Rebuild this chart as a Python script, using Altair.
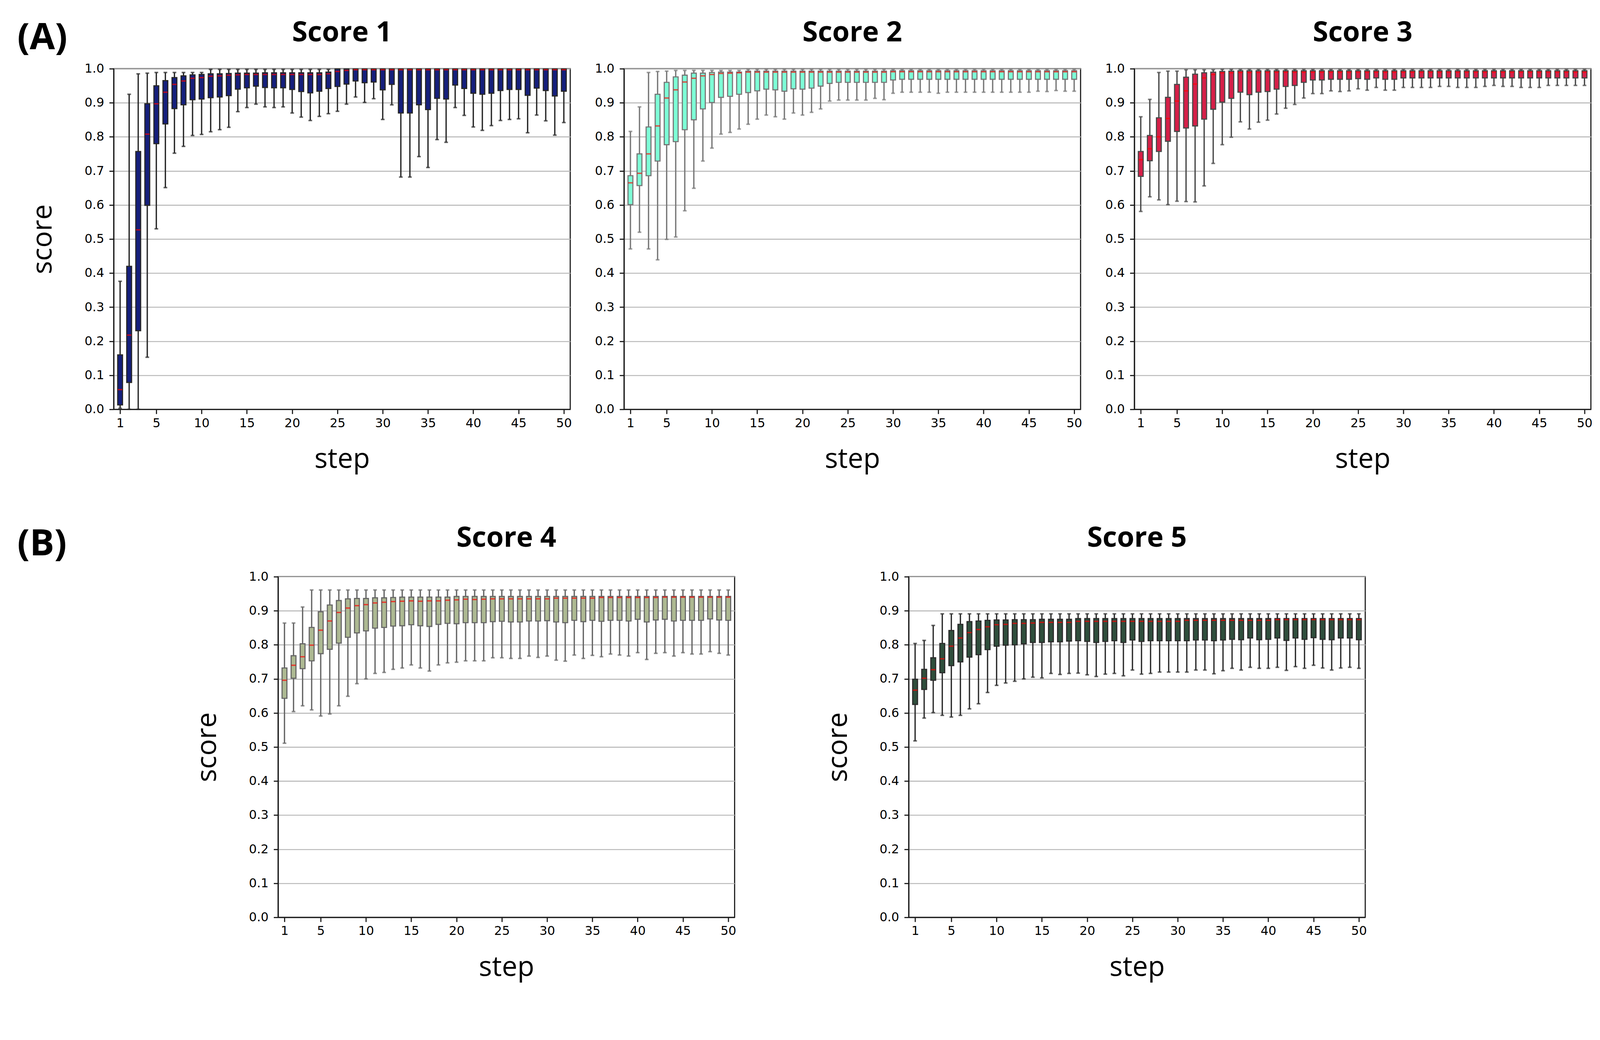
import altair as alt
import pandas as pd

STEPS = list(range(1, 51))
X_TICKS = [1, 5, 10, 15, 20, 25, 30, 35, 40, 45, 50]
Y_TICKS = [0.0, 0.1, 0.2, 0.3, 0.4, 0.5, 0.6, 0.7, 0.8, 0.9, 1.0]

# ---------------- Score 1 ----------------
S1_WMAX = [0.376, 0.925, 0.985, 0.987, 0.989, 0.989, 0.989, 0.989, 0.989, 0.989,
           0.998, 0.998, 0.998, 0.998, 0.998, 0.998, 0.998, 0.998, 0.998, 0.998,
           0.998, 0.998, 0.998, 0.998, 0.998, 0.998, 0.998, 0.998, 0.998, 0.998,
           0.998, 0.998, 0.998, 0.998, 0.998, 0.998, 0.998, 0.998, 0.998, 0.998,
           0.998, 0.998, 0.998, 0.998, 0.998, 0.998, 0.998, 0.998, 0.998, 0.998]
S1_Q3 = [0.160, 0.420, 0.757, 0.897, 0.950, 0.965, 0.974, 0.979, 0.982, 0.983,
         0.985, 0.985, 0.986, 0.987, 0.987, 0.987, 0.988, 0.988, 0.988, 0.988,
         0.988, 0.988, 0.988, 0.990, 0.999, 0.999, 0.999, 0.999, 0.999, 0.999,
         0.999, 0.999, 0.999, 0.999, 0.999, 0.999, 0.999, 0.999, 0.999, 0.999,
         0.999, 0.999, 0.999, 0.999, 0.999, 0.999, 0.999, 0.999, 0.999, 0.999]
S1_MED = [0.058, 0.218, 0.527, 0.808, 0.897, 0.931, 0.954, 0.964, 0.972, 0.974,
          0.978, 0.979, 0.981, 0.982, 0.983, 0.983, 0.983, 0.983, 0.983, 0.983,
          0.983, 0.983, 0.983, 0.985, 0.992, 0.995, 0.997, 0.997, 0.997, 0.997,
          0.997, 0.997, 0.997, 0.997, 0.997, 0.997, 0.997, 0.997, 0.997, 0.997,
          0.997, 0.997, 0.997, 0.997, 0.997, 0.997, 0.997, 0.997, 0.997, 0.997]
S1_Q1 = [0.013, 0.079, 0.231, 0.599, 0.780, 0.838, 0.883, 0.894, 0.909, 0.911,
         0.915, 0.917, 0.921, 0.940, 0.944, 0.949, 0.945, 0.944, 0.944, 0.939,
         0.933, 0.929, 0.934, 0.942, 0.948, 0.955, 0.964, 0.959, 0.961, 0.938,
         0.954, 0.870, 0.870, 0.894, 0.880, 0.913, 0.911, 0.952, 0.942, 0.928,
         0.925, 0.928, 0.936, 0.939, 0.939, 0.922, 0.943, 0.936, 0.920, 0.934]
S1_WMIN = [0.003, 0.000, 0.000, 0.153, 0.530, 0.651, 0.752, 0.772, 0.804, 0.807,
           0.815, 0.821, 0.828, 0.874, 0.886, 0.896, 0.888, 0.886, 0.888, 0.870,
           0.858, 0.848, 0.860, 0.868, 0.875, 0.896, 0.917, 0.901, 0.912, 0.851,
           0.894, 0.682, 0.682, 0.742, 0.710, 0.792, 0.784, 0.886, 0.863, 0.829,
           0.819, 0.833, 0.848, 0.851, 0.853, 0.812, 0.864, 0.847, 0.805, 0.842]

# ---------------- Score 2 ----------------
S2_WMAX = [0.816, 0.888, 0.989, 0.992, 0.993, 0.995, 0.995, 0.995, 0.995, 0.995,
           0.995, 0.995, 0.995, 0.998, 0.998, 0.998, 0.998, 0.998, 0.998, 0.998,
           0.998, 0.998, 0.998, 0.998, 0.998, 0.998, 0.998, 0.998, 0.998, 0.998,
           0.998, 0.998, 0.998, 0.998, 0.998, 0.998, 0.998, 0.998, 0.998, 0.998,
           0.998, 0.998, 0.998, 0.998, 0.998, 0.998, 0.998, 0.998, 0.998, 0.998]
S2_Q3 = [0.686, 0.750, 0.829, 0.925, 0.960, 0.976, 0.981, 0.987, 0.987, 0.989,
         0.990, 0.990, 0.990, 0.993, 0.993, 0.993, 0.993, 0.993, 0.993, 0.993,
         0.993, 0.993, 0.993, 0.993, 0.993, 0.993, 0.993, 0.993, 0.993, 0.994,
         0.994, 0.994, 0.994, 0.994, 0.994, 0.994, 0.994, 0.994, 0.994, 0.994,
         0.994, 0.994, 0.994, 0.994, 0.994, 0.994, 0.994, 0.994, 0.994, 0.994]
S2_MED = [0.665, 0.693, 0.750, 0.832, 0.914, 0.938, 0.961, 0.972, 0.979, 0.983,
          0.986, 0.987, 0.988, 0.990, 0.990, 0.990, 0.990, 0.990, 0.990, 0.990,
          0.990, 0.990, 0.990, 0.990, 0.990, 0.990, 0.990, 0.990, 0.990, 0.991,
          0.991, 0.991, 0.991, 0.991, 0.991, 0.991, 0.991, 0.991, 0.991, 0.991,
          0.991, 0.991, 0.991, 0.991, 0.991, 0.991, 0.991, 0.991, 0.991, 0.991]
S2_Q1 = [0.601, 0.657, 0.686, 0.729, 0.777, 0.786, 0.821, 0.850, 0.882, 0.901,
         0.916, 0.919, 0.925, 0.930, 0.935, 0.940, 0.938, 0.934, 0.941, 0.940,
         0.943, 0.949, 0.957, 0.960, 0.960, 0.960, 0.960, 0.960, 0.960, 0.967,
         0.969, 0.969, 0.969, 0.969, 0.969, 0.969, 0.969, 0.969, 0.969, 0.969,
         0.969, 0.969, 0.969, 0.969, 0.969, 0.969, 0.969, 0.969, 0.969, 0.969]
S2_WMIN = [0.471, 0.520, 0.471, 0.439, 0.499, 0.506, 0.583, 0.649, 0.729, 0.767,
           0.808, 0.813, 0.823, 0.837, 0.852, 0.864, 0.859, 0.852, 0.870, 0.864,
           0.872, 0.882, 0.905, 0.908, 0.908, 0.908, 0.908, 0.913, 0.909, 0.928,
           0.931, 0.931, 0.931, 0.931, 0.928, 0.931, 0.931, 0.931, 0.931, 0.931,
           0.931, 0.931, 0.931, 0.931, 0.931, 0.934, 0.933, 0.936, 0.934, 0.934]

# ---------------- Score 3 ----------------
S3_WMAX = [0.859, 0.910, 0.989, 0.993, 0.993, 0.997, 0.997, 0.997, 0.997, 0.998,
           0.998, 0.998, 0.998, 0.998, 0.998, 0.998, 0.998, 0.998, 0.998, 0.998,
           0.998, 0.998, 0.998, 0.998, 0.998, 0.998, 0.998, 0.998, 0.998, 0.998,
           0.998, 0.998, 0.998, 0.998, 0.998, 0.998, 0.998, 0.998, 0.998, 0.998,
           0.998, 0.998, 0.998, 0.998, 0.998, 0.998, 0.998, 0.998, 0.998, 0.998]
S3_Q3 = [0.757, 0.804, 0.856, 0.916, 0.954, 0.975, 0.984, 0.988, 0.990, 0.992,
         0.993, 0.994, 0.994, 0.994, 0.994, 0.994, 0.994, 0.994, 0.994, 0.994,
         0.994, 0.994, 0.994, 0.994, 0.994, 0.994, 0.994, 0.994, 0.994, 0.994,
         0.994, 0.994, 0.994, 0.994, 0.994, 0.994, 0.994, 0.994, 0.994, 0.994,
         0.994, 0.994, 0.994, 0.994, 0.994, 0.994, 0.994, 0.994, 0.994, 0.994]
S3_MED = [0.733, 0.765, 0.800, 0.854, 0.905, 0.935, 0.955, 0.973, 0.983, 0.988,
          0.988, 0.989, 0.989, 0.989, 0.990, 0.990, 0.990, 0.990, 0.990, 0.990,
          0.990, 0.990, 0.990, 0.990, 0.990, 0.990, 0.990, 0.990, 0.990, 0.990,
          0.990, 0.990, 0.990, 0.990, 0.990, 0.990, 0.990, 0.990, 0.990, 0.990,
          0.990, 0.990, 0.990, 0.990, 0.990, 0.990, 0.990, 0.990, 0.990, 0.990]
S3_Q1 = [0.684, 0.730, 0.757, 0.787, 0.816, 0.826, 0.832, 0.852, 0.881, 0.902,
         0.913, 0.931, 0.924, 0.931, 0.933, 0.940, 0.948, 0.951, 0.960, 0.967,
         0.967, 0.969, 0.969, 0.969, 0.971, 0.969, 0.973, 0.969, 0.969, 0.973,
         0.973, 0.973, 0.973, 0.973, 0.973, 0.973, 0.973, 0.973, 0.973, 0.973,
         0.973, 0.973, 0.973, 0.973, 0.973, 0.973, 0.973, 0.973, 0.973, 0.973]
S3_WMIN = [0.581, 0.624, 0.615, 0.601, 0.611, 0.610, 0.609, 0.656, 0.722, 0.777,
           0.799, 0.844, 0.823, 0.843, 0.849, 0.867, 0.884, 0.895, 0.914, 0.927,
           0.927, 0.935, 0.933, 0.935, 0.941, 0.937, 0.945, 0.937, 0.937, 0.945,
           0.945, 0.945, 0.945, 0.948, 0.948, 0.945, 0.945, 0.945, 0.948, 0.951,
           0.948, 0.948, 0.945, 0.945, 0.945, 0.951, 0.951, 0.951, 0.951, 0.951]

# ---------------- Score 4 ----------------
S4_WMAX = [0.864, 0.864, 0.911, 0.961, 0.961, 0.961, 0.961, 0.961, 0.961, 0.961,
           0.961, 0.961, 0.961, 0.961, 0.961, 0.961, 0.961, 0.961, 0.961, 0.961,
           0.961, 0.961, 0.961, 0.961, 0.961, 0.961, 0.961, 0.961, 0.961, 0.961,
           0.961, 0.961, 0.961, 0.961, 0.961, 0.961, 0.961, 0.961, 0.961, 0.961,
           0.961, 0.961, 0.961, 0.961, 0.961, 0.961, 0.961, 0.961, 0.961, 0.961]
S4_Q3 = [0.732, 0.768, 0.803, 0.851, 0.897, 0.917, 0.930, 0.935, 0.936, 0.936,
         0.938, 0.938, 0.939, 0.940, 0.940, 0.940, 0.940, 0.940, 0.940, 0.942,
         0.942, 0.942, 0.942, 0.942, 0.942, 0.942, 0.942, 0.942, 0.942, 0.942,
         0.942, 0.942, 0.942, 0.942, 0.942, 0.942, 0.942, 0.942, 0.942, 0.942,
         0.942, 0.942, 0.942, 0.942, 0.942, 0.942, 0.942, 0.942, 0.942, 0.942]
S4_MED = [0.696, 0.740, 0.765, 0.799, 0.843, 0.870, 0.895, 0.908, 0.915, 0.918,
          0.923, 0.925, 0.927, 0.928, 0.929, 0.928, 0.929, 0.929, 0.931, 0.932,
          0.934, 0.933, 0.934, 0.935, 0.935, 0.935, 0.935, 0.935, 0.935, 0.935,
          0.937, 0.937, 0.937, 0.937, 0.937, 0.939, 0.939, 0.939, 0.939, 0.939,
          0.939, 0.939, 0.940, 0.940, 0.940, 0.940, 0.940, 0.940, 0.940, 0.940]
S4_Q1 = [0.643, 0.702, 0.730, 0.753, 0.774, 0.787, 0.805, 0.822, 0.835, 0.841,
         0.849, 0.851, 0.855, 0.856, 0.859, 0.856, 0.854, 0.860, 0.863, 0.862,
         0.865, 0.865, 0.865, 0.868, 0.869, 0.867, 0.867, 0.870, 0.870, 0.871,
         0.867, 0.865, 0.872, 0.868, 0.872, 0.869, 0.872, 0.872, 0.870, 0.875,
         0.867, 0.873, 0.875, 0.870, 0.872, 0.872, 0.872, 0.876, 0.873, 0.872]
S4_WMIN = [0.511, 0.604, 0.621, 0.609, 0.591, 0.597, 0.621, 0.649, 0.686, 0.700,
           0.716, 0.719, 0.728, 0.732, 0.741, 0.732, 0.723, 0.741, 0.747, 0.749,
           0.753, 0.753, 0.753, 0.762, 0.762, 0.760, 0.760, 0.767, 0.763, 0.767,
           0.755, 0.752, 0.770, 0.760, 0.769, 0.765, 0.773, 0.770, 0.767, 0.777,
           0.757, 0.775, 0.777, 0.767, 0.777, 0.773, 0.773, 0.780, 0.775, 0.770]

# ---------------- Score 5 ----------------
S5_WMAX = [0.804, 0.813, 0.857, 0.891, 0.891, 0.891, 0.891, 0.891, 0.891, 0.891,
           0.891, 0.891, 0.891, 0.891, 0.891, 0.891, 0.891, 0.891, 0.891, 0.891,
           0.891, 0.891, 0.891, 0.891, 0.891, 0.891, 0.891, 0.891, 0.891, 0.891,
           0.891, 0.891, 0.891, 0.891, 0.891, 0.891, 0.891, 0.891, 0.891, 0.891,
           0.891, 0.891, 0.891, 0.891, 0.891, 0.891, 0.891, 0.891, 0.891, 0.891]
S5_Q3 = [0.699, 0.728, 0.762, 0.804, 0.842, 0.860, 0.868, 0.870, 0.872, 0.873,
         0.873, 0.874, 0.874, 0.874, 0.875, 0.875, 0.875, 0.875, 0.877, 0.877,
         0.877, 0.877, 0.877, 0.877, 0.877, 0.877, 0.877, 0.877, 0.877, 0.877,
         0.877, 0.877, 0.877, 0.877, 0.877, 0.877, 0.877, 0.877, 0.877, 0.877,
         0.877, 0.877, 0.877, 0.877, 0.877, 0.877, 0.877, 0.877, 0.877, 0.877]
S5_MED = [0.667, 0.702, 0.727, 0.759, 0.796, 0.820, 0.836, 0.845, 0.853, 0.859,
          0.860, 0.863, 0.863, 0.864, 0.866, 0.866, 0.866, 0.866, 0.869, 0.869,
          0.869, 0.869, 0.869, 0.869, 0.869, 0.869, 0.869, 0.869, 0.869, 0.869,
          0.872, 0.872, 0.872, 0.872, 0.872, 0.872, 0.872, 0.872, 0.872, 0.872,
          0.874, 0.874, 0.874, 0.874, 0.874, 0.874, 0.874, 0.874, 0.874, 0.874]
S5_Q1 = [0.625, 0.669, 0.696, 0.718, 0.739, 0.750, 0.764, 0.771, 0.786, 0.796,
         0.799, 0.800, 0.803, 0.807, 0.807, 0.809, 0.809, 0.811, 0.812, 0.810,
         0.807, 0.810, 0.812, 0.807, 0.814, 0.810, 0.812, 0.812, 0.812, 0.812,
         0.812, 0.814, 0.814, 0.812, 0.814, 0.816, 0.815, 0.820, 0.815, 0.816,
         0.820, 0.813, 0.820, 0.816, 0.821, 0.816, 0.815, 0.820, 0.820, 0.815]
S5_WMIN = [0.518, 0.585, 0.601, 0.593, 0.588, 0.593, 0.612, 0.627, 0.660, 0.681,
           0.688, 0.693, 0.700, 0.705, 0.703, 0.716, 0.713, 0.716, 0.717, 0.712,
           0.707, 0.714, 0.716, 0.709, 0.726, 0.714, 0.716, 0.720, 0.720, 0.720,
           0.720, 0.726, 0.726, 0.715, 0.724, 0.731, 0.726, 0.734, 0.731, 0.731,
           0.734, 0.725, 0.736, 0.731, 0.740, 0.732, 0.726, 0.732, 0.734, 0.731]

W, H = 1222, 912
FRAME = "#1a1a1a"


def tag_text(tag, tx, ty):
    return alt.Chart(pd.DataFrame({"t": [tag]})).mark_text(
        align="left", baseline="middle", fontSize=98, fontWeight="bold",
        font="Open Sans", color="black").encode(
        text="t:N", x=alt.value(tx), y=alt.value(ty))


def panel(title, wmin, q1, med, q3, wmax, fill, edge, ytitle, tag=None, tag_x=0, tag_y=0,
          title_y=-73):
    df = pd.DataFrame({"step": STEPS, "wmin": wmin, "q1": q1, "med": med,
                       "q3": q3, "wmax": wmax})
    xscale = alt.Scale(domain=[0.5, 50.5], nice=False, zero=False)
    yscale = alt.Scale(domain=[0, 1], nice=False, zero=False)
    xaxis = alt.Axis(values=X_TICKS, title="step", grid=False, labelPadding=9,
                     titlePadding=44, labelFlush=False)
    yaxis = alt.Axis(values=Y_TICKS, format=".1f", grid=True, labelPadding=14,
                     titlePadding=72, labelFlush=False, title=ytitle)
    base = alt.Chart(df)

    def X():
        return alt.X("step:Q", scale=xscale, axis=xaxis)

    def Y(f):
        return alt.Y(f, scale=yscale, axis=yaxis)

    whisk = base.mark_rule(color=edge, strokeWidth=3.5).encode(
        x=X(), y=Y("wmin:Q"), y2="wmax:Q")
    cap_lo = base.mark_tick(color=edge, orient="horizontal", size=10, thickness=4).encode(
        x=X(), y=Y("wmin:Q"))
    cap_hi = base.mark_tick(color=edge, orient="horizontal", size=10, thickness=4).encode(
        x=X(), y=Y("wmax:Q"))
    box = base.mark_bar(size=13, fill=fill, stroke=edge, strokeWidth=3).encode(
        x=X(), y=Y("q1:Q"), y2="q3:Q")
    medt = base.mark_tick(color="#ff0000", orient="horizontal", size=12, thickness=3.5).encode(
        x=X(), y=Y("med:Q"))
    ttl = alt.Chart(pd.DataFrame({"t": [title]})).mark_text(
        align="center", baseline="alphabetic", fontSize=75, fontWeight="bold",
        font="Open Sans", color="black").encode(
        text="t:N", x=alt.value(W / 2), y=alt.value(title_y))
    layers = [whisk, cap_lo, cap_hi, box, medt, ttl]
    if tag:
        layers.append(tag_text(tag, tag_x, tag_y))
    return alt.layer(*layers).properties(width=W, height=H)


p1 = panel("Score 1", S1_WMIN, S1_Q1, S1_MED, S1_Q3, S1_WMAX, "#151f7c", "#262626",
           "score", tag="(A)", tag_x=-258, tag_y=-81)
p2 = panel("Score 2", S2_WMIN, S2_Q1, S2_MED, S2_Q3, S2_WMAX, "#7dffd6", "#777777", None)
p3 = panel("Score 3", S3_WMIN, S3_Q1, S3_MED, S3_Q3, S3_WMAX, "#d61f48", "#484848", None)
p4 = panel("Score 4", S4_WMIN, S4_Q1, S4_MED, S4_Q3, S4_WMAX, "#adb992", "#666666", "score",
           title_y=-80)
p5 = panel("Score 5", S5_WMIN, S5_Q1, S5_MED, S5_Q3, S5_WMAX, "#2f4e3c", "#2b2b2b", "score",
           title_y=-80)

# holder for the "(B)" label, aligned with panel (A)'s origin
label_b = tag_text("(B)", -258, -86).properties(
    width=1, height=H, view=alt.ViewBackground(stroke="transparent"))

row1 = alt.hconcat(p1, p2, p3, spacing=58)
row2 = alt.hconcat(label_b, alt.hconcat(p4, p5, spacing=233), spacing=210)

chart = alt.vconcat(row1, row2, spacing=133).properties(
    padding={"left": 36, "top": -18, "right": 10, "bottom": 10},
    background="white",
).configure_view(
    stroke=FRAME, strokeWidth=3
).configure_axis(
    labelFont="DejaVu Sans", labelFontSize=33, labelColor="black",
    titleFont="Open Sans", titleFontSize=74, titleFontWeight="normal", titleColor="black",
    tickSize=12, tickWidth=3, tickColor=FRAME, domainColor=FRAME, domainWidth=3,
    gridColor="#b4b4b4", gridWidth=2.5
)

chart.save("out.html", embed_options={"renderer": "svg", "actions": False})
